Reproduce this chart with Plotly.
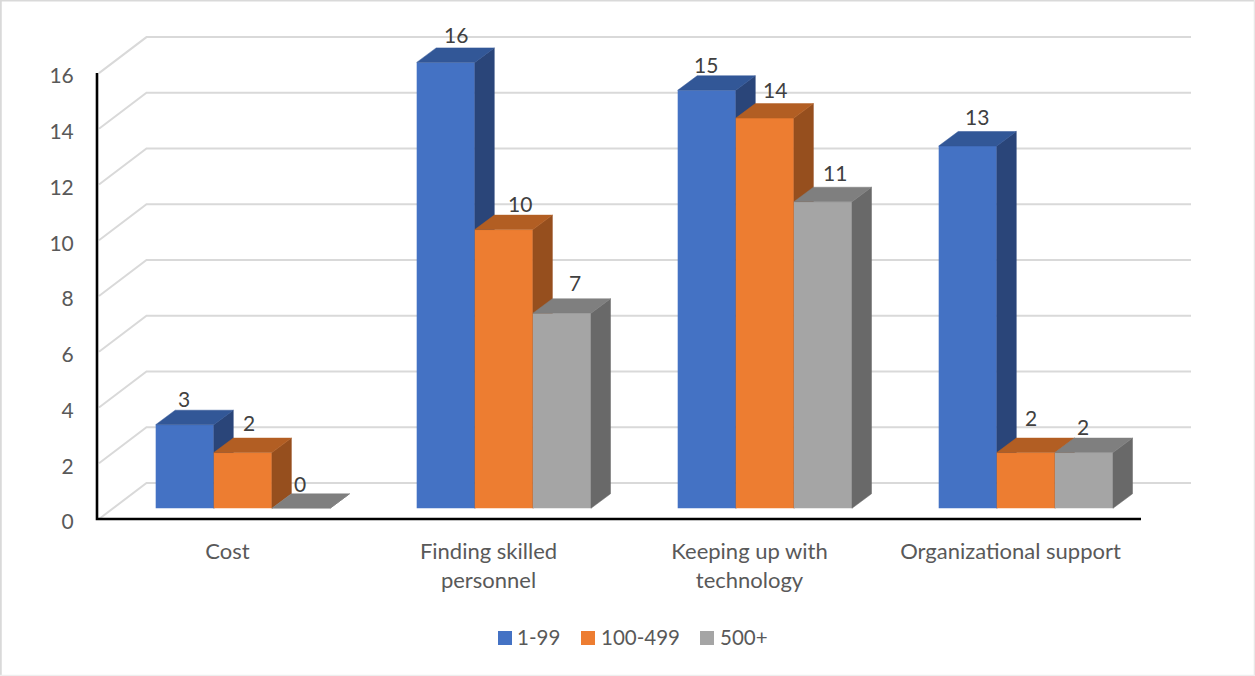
import plotly.graph_objects as go

# Survey counts by challenge and organisation size
categories = ["Cost", "Finding skilled<br>personnel", "Keeping up with<br>technology", "Organizational support"]
series_names = ["1-99", "100-499", "500+"]
values_small = [3, 16, 15, 13]
values_medium = [2, 10, 14, 2]
values_large = [0, 7, 11, 2]
y_ticks = [0, 2, 4, 6, 8, 10, 12, 14, 16]

series_values = [values_small, values_medium, values_large]
front_colors = ["#4472C4", "#ED7D31", "#A5A5A5"]
top_colors = ["#325797", "#B25E23", "#7F7F7F"]
side_colors = ["#2A4579", "#964F1E", "#696969"]

# Pixel-per-unit layout of the oblique projection; the plot area leaves a
# small pad around the axes so their full line width stays visible
WIDTH, HEIGHT = 1255, 676
PLOT_L, PLOT_R, PLOT_T, PLOT_B = 91, 1195, 33, 525
AXIS_X, AXIS_Y = 97, 519
PX_X = 261.0
PX_Y = 27.87
x_range = [-0.5 - (AXIS_X - PLOT_L) / PX_X, -0.5 + (PLOT_R - AXIS_X) / PX_X]
y_range = [-(PLOT_B - AXIS_Y) / PX_Y, (AXIS_Y - PLOT_T) / PX_Y]
GRID_END = -0.5 + (1191 - AXIS_X) / PX_X

# Depth of the walls and of the bars, in axis units
WALL_DX, WALL_DY = 49.5 / PX_X, 36 / PX_Y
BAR_DX, BAR_DY = 19.5 / PX_X, 14.5 / PX_Y
BAR_BASE = 10.7 / PX_Y
BAR_W = 58.1 / PX_X
GROUP_START = -0.2751

# Data label nudges (px) for each series and category
label_dx = [[-1, 10, -1, 9], [6, 16, 10, 5], [-1, 13, 12, -1]]
label_dy = [[26, 28, 26, 29], [30, 26, 29, 35], [25, 31, 29, 26]]

# Key entries: swatch left edge and label left edge, in page pixels
key_swatch_x = [498, 581, 700]
key_text_x = [515, 599, 718]
KEY_Y = 638
KEY_SWATCH = 14

fig = go.Figure()

# Receding gridlines: diagonal on the side wall, then across the back wall
grid_x, grid_y = [], []
for t in y_ticks:
    grid_x += [-0.5 + 2 / PX_X, -0.5 + WALL_DX, GRID_END, None]
    grid_y += [t, t + WALL_DY, t + WALL_DY, None]
fig.add_trace(go.Scatter(x=grid_x, y=grid_y, mode="lines", showlegend=False,
                         hoverinfo="skip", line=dict(color="#D9D9D9", width=2)))

# Front axis lines
fig.add_trace(go.Scatter(x=[-0.5, -0.5, 3.5], y=[y_ticks[-1], 0, 0], mode="lines",
                         showlegend=False, hoverinfo="skip",
                         line=dict(color="#000000", width=2.6)))

annotations = []
for k, (name, vals) in enumerate(zip(series_names, series_values)):
    axis_suffix = str(k + 2)
    offset = GROUP_START + k * BAR_W
    fig.add_trace(go.Bar(x=list(range(len(categories))), y=vals, base=BAR_BASE, width=BAR_W, offset=offset,
                         name=name, marker=dict(color=front_colors[k], line=dict(width=0)), showlegend=False,
                         xaxis="x" + axis_suffix, yaxis="y" + axis_suffix, hoverinfo="skip"))
    side_x, side_y, top_x, top_y = [], [], [], []
    for i, v in enumerate(vals):
        left = i + offset
        right = left + BAR_W
        top = BAR_BASE + v
        side_x += [right, right + BAR_DX, right + BAR_DX, right, right, None]
        side_y += [BAR_BASE, BAR_BASE + BAR_DY, top + BAR_DY, top, BAR_BASE, None]
        top_x += [left, left + BAR_DX, right + BAR_DX, right, left, None]
        top_y += [top, top + BAR_DY, top + BAR_DY, top, top, None]
        annotations.append(dict(x=left + BAR_W / 2, y=top, xref="x", yref="y", text=str(v), showarrow=False,
                                xshift=label_dx[k][i], yshift=label_dy[k][i],
                                font=dict(family="Lato", size=21, color="#404040")))
    for xs, ys, color in ((side_x, side_y, side_colors[k]), (top_x, top_y, top_colors[k])):
        fig.add_trace(go.Scatter(x=xs, y=ys, mode="lines", fill="toself", fillcolor=color,
                                 line=dict(width=0.5, color=color), showlegend=False, hoverinfo="skip",
                                 xaxis="x" + axis_suffix, yaxis="y" + axis_suffix))


# Page pixels to paper fractions, for the frame and the key
def px(x):
    return (x - PLOT_L) / (PLOT_R - PLOT_L)


def py(y):
    return (PLOT_B - y) / (PLOT_B - PLOT_T)


frame = [
    (0, 0.5, WIDTH, 0.5, "#D9D9D9", 2),
    (0.5, 0, 0.5, HEIGHT, "#D9D9D9", 2.5),
    (WIDTH - 0.5, 0, WIDTH - 0.5, HEIGHT, "#E8E8E8", 1.5),
    (0, HEIGHT - 0.5, WIDTH, HEIGHT - 0.5, "#EEEEEE", 1.5),
]
shapes = [dict(type="line", xref="paper", yref="paper", x0=px(a), y0=py(b), x1=px(c), y1=py(d),
               line=dict(color=col, width=w), layer="above") for a, b, c, d, col, w in frame]

# Series key below the category labels
legend_font = dict(family="Lato", size=20.5, color="#595959")
for name, color, sx, tx in zip(series_names, front_colors, key_swatch_x, key_text_x):
    shapes.append(dict(type="rect", xref="paper", yref="paper", x0=px(sx), x1=px(sx + KEY_SWATCH),
                       y0=py(KEY_Y - KEY_SWATCH / 2), y1=py(KEY_Y + KEY_SWATCH / 2),
                       fillcolor=color, line=dict(width=0)))
    annotations.append(dict(x=px(tx), y=py(KEY_Y), xref="paper", yref="paper", text=name, showarrow=False,
                            xanchor="left", yanchor="middle", yshift=1, font=legend_font))

category_font = dict(family="Lato", size=22, color="#595959")
tick_font = dict(family="Lato", size=21, color="#595959")
layout = dict(
    width=WIDTH, height=HEIGHT,
    margin=dict(l=PLOT_L, r=WIDTH - PLOT_R, t=PLOT_T, b=HEIGHT - PLOT_B, autoexpand=False),
    paper_bgcolor="white", plot_bgcolor="white",
    font=tick_font, shapes=shapes, annotations=annotations, showlegend=False,
    xaxis=dict(range=x_range, tickmode="array", tickvals=list(range(len(categories))), ticktext=categories,
               showgrid=False, zeroline=False, showline=False, ticks="outside", ticklen=7,
               tickcolor="rgba(0,0,0,0)", tickfont=category_font),
    yaxis=dict(range=y_range, tickmode="array", tickvals=y_ticks, showgrid=False, zeroline=False,
               showline=False, ticks="outside", ticklen=12, tickcolor="rgba(0,0,0,0)", tickfont=tick_font,
               ticklabelshift=3),
)
for k in range(len(series_names)):
    suffix = str(k + 2)
    layout["xaxis" + suffix] = dict(range=x_range, overlaying="x", visible=False, anchor="y" + suffix)
    layout["yaxis" + suffix] = dict(range=y_range, overlaying="y", visible=False, anchor="x" + suffix)
fig.update_layout(**layout)

fig.write_html("out.html")
